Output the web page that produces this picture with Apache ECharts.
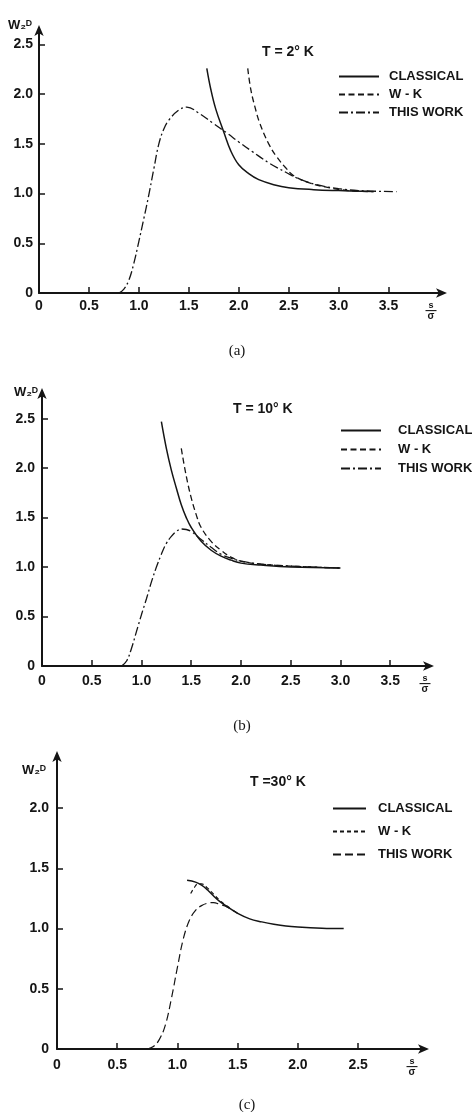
<!DOCTYPE html>
<html>
<head>
<meta charset="utf-8">
<script src="https://cdn.jsdelivr.net/npm/echarts@6/dist/echarts.min.js"></script>
<style>
  html, body { margin: 0; padding: 0; background: #fff; }
  #chart { width: 472px; height: 1112px; }
</style>
</head>
<body>
<div id="chart"></div>
<script>
// --- data: [s/sigma, W2D] ---
const classicalA = [[1.68, 2.26], [1.72, 2.05], [1.77, 1.85], [1.85, 1.62], [1.92, 1.43], [2.0, 1.29], [2.1, 1.2], [2.2, 1.14], [2.35, 1.09], [2.5, 1.06], [2.75, 1.04], [3.0, 1.03], [3.35, 1.02]]
const wkA = [[2.09, 2.26], [2.12, 2.05], [2.16, 1.88], [2.21, 1.71], [2.3, 1.5], [2.38, 1.37], [2.47, 1.26], [2.55, 1.18], [2.7, 1.11], [2.9, 1.06], [3.1, 1.03], [3.35, 1.02]]
const thisWorkA = [[0.8, 0], [0.85, 0.04], [0.9, 0.13], [0.95, 0.3], [1.0, 0.52], [1.05, 0.75], [1.1, 0.99], [1.15, 1.25], [1.2, 1.5], [1.25, 1.65], [1.3, 1.74], [1.4, 1.84], [1.48, 1.87], [1.6, 1.81], [1.74, 1.71], [1.88, 1.61], [2.0, 1.52], [2.14, 1.42], [2.3, 1.31], [2.48, 1.21], [2.6, 1.15], [2.78, 1.09], [3.0, 1.05], [3.2, 1.03], [3.58, 1.02]]

const classicalB = [[1.2, 2.47], [1.25, 2.2], [1.3, 1.98], [1.35, 1.8], [1.4, 1.63], [1.45, 1.5], [1.5, 1.4], [1.6, 1.26], [1.7, 1.17], [1.8, 1.11], [1.9, 1.07], [2.0, 1.04], [2.2, 1.02], [2.5, 1.0], [3.0, 0.99]]
const wkB = [[1.4, 2.2], [1.45, 1.92], [1.5, 1.7], [1.55, 1.53], [1.6, 1.4], [1.7, 1.26], [1.8, 1.17], [1.9, 1.1], [2.0, 1.06], [2.2, 1.03], [2.5, 1.01], [3.0, 0.99]]
const thisWorkB = [[0.8, 0], [0.85, 0.05], [0.9, 0.18], [0.95, 0.35], [1.0, 0.52], [1.05, 0.68], [1.1, 0.85], [1.15, 1.0], [1.2, 1.13], [1.25, 1.24], [1.3, 1.31], [1.35, 1.36], [1.4, 1.385], [1.45, 1.38], [1.5, 1.36], [1.6, 1.28], [1.7, 1.2], [1.8, 1.13], [1.9, 1.09], [2.0, 1.06], [2.2, 1.03], [2.5, 1.01], [3.0, 0.99]]

const classicalC = [[1.08, 1.4], [1.15, 1.385], [1.2, 1.36], [1.25, 1.32], [1.3, 1.27], [1.35, 1.225], [1.4, 1.19], [1.5, 1.125], [1.6, 1.08], [1.7, 1.055], [1.8, 1.035], [1.9, 1.02], [2.0, 1.012], [2.2, 1.003], [2.38, 1.0]]
const wkC = [[1.11, 1.29], [1.14, 1.34], [1.17, 1.37], [1.2, 1.37], [1.25, 1.335], [1.3, 1.285], [1.35, 1.235], [1.4, 1.195], [1.45, 1.16]]
const thisWorkC = [[0.75, 0], [0.8, 0.02], [0.85, 0.08], [0.9, 0.2], [0.95, 0.42], [1.0, 0.68], [1.05, 0.92], [1.1, 1.07], [1.15, 1.15], [1.2, 1.19], [1.25, 1.21], [1.3, 1.215], [1.35, 1.2], [1.4, 1.185], [1.5, 1.125]]

const xTicksAB = [0, 0.5, 1.0, 1.5, 2.0, 2.5, 3.0, 3.5]
const xTicksC = [0, 0.5, 1.0, 1.5, 2.0, 2.5]
const yTicksAB = [0, 0.5, 1.0, 1.5, 2.0, 2.5]
const yTicksC = [0, 0.5, 1.0, 1.5, 2.0]

const names = ['CLASSICAL', 'W - K', 'THIS WORK']
const panelKeys = ['a', 'b', 'c']
const titles = ['T = 2° K', 'T = 10° K', 'T =30° K']
const captions = ['(a)', '(b)', '(c)']

const ink = '#151515'
const sans = 'Liberation Sans, Arial, sans-serif'
const fmt = v => (v === 0 ? '0' : v.toFixed(1))

// one panel = one grid; sizes are measured from the scan
const panels = [
  { grid: { left: 39, top: 29, width: 404, height: 264 }, xMax: 4.045, yMax: 2.656, xTicks: xTicksAB, yTicks: yTicksAB, xMargin: 6, yMargin: 6, yNameGap: 4, yNamePad: 7, xNameGap: -12 },
  { grid: { left: 42, top: 392, width: 388, height: 274 }, xMax: 3.9, yMax: 2.77, xTicks: xTicksAB, yTicks: yTicksAB, xMargin: 8, yMargin: 7, yNameGap: 0, yNamePad: 4, xNameGap: -5 },
  { grid: { left: 57, top: 755, width: 368, height: 294 }, xMax: 3.055, yMax: 2.44, xTicks: xTicksC, yTicks: yTicksC, xMargin: 9, yMargin: 8, yNameGap: -15, yNamePad: 11, xNameGap: -13 }
]

const axisLine = { lineStyle: { color: ink, width: 2 }, symbol: ['none', 'arrow'], symbolSize: [7, 11], symbolOffset: [0, 4] }
const labelStyle = { color: ink, fontFamily: sans, fontWeight: 'bold', fontSize: 14 }

const xAxis = panels.map((p, i) => ({
  type: 'value', gridIndex: i, min: 0, max: p.xMax,
  axisLine,
  splitLine: { show: false },
  axisTick: { inside: true, length: 6, lineStyle: { color: ink, width: 1.5 }, customValues: p.xTicks },
  axisLabel: { ...labelStyle, margin: p.xMargin, formatter: fmt, customValues: p.xTicks },
  name: '{n|s}\n{b|—}\n{d|σ}',
  nameLocation: 'end',
  nameGap: p.xNameGap,
  nameTextStyle: {
    align: 'center', verticalAlign: 'top', padding: [9, 0, 0, 0],
    rich: {
      n: { fontSize: 9, fontWeight: 'bold', lineHeight: 7, color: ink, fontFamily: sans },
      b: { fontSize: 11, fontWeight: 'bold', lineHeight: 3, color: ink, fontFamily: sans },
      d: { fontSize: 10, fontWeight: 'bold', lineHeight: 9, color: ink, fontFamily: sans }
    }
  }
}))

const yAxis = panels.map((p, i) => ({
  type: 'value', gridIndex: i, min: 0, max: p.yMax,
  axisLine,
  splitLine: { show: false },
  axisTick: { inside: true, length: 6, lineStyle: { color: ink, width: 1.5 }, customValues: p.yTicks },
  axisLabel: { ...labelStyle, margin: p.yMargin, formatter: fmt, customValues: p.yTicks },
  name: 'W₂ᴰ',
  nameLocation: 'end',
  nameGap: p.yNameGap,
  nameTextStyle: { ...labelStyle, fontSize: 13, align: 'right', verticalAlign: 'middle', padding: [0, p.yNamePad, 0, 0] }
}))

const dashDot = [9, 3, 2, 3]
const styles = [
  { type: 'solid', width: 1.5 },
  { type: [6, 3.5], width: 1.3 },
  { type: dashDot, width: 1.3 }
]
const data = [
  [classicalA, wkA, thisWorkA],
  [classicalB, wkB, thisWorkB],
  [classicalC, wkC, thisWorkC]
]

// series names carry a panel key so each legend picks its own panel's line style
const seriesName = (j, i) => names[j] + '|' + panelKeys[i]

const series = []
data.forEach((set, i) => {
  set.forEach((d, j) => {
    let ls = { ...styles[j], color: ink }
    if (i === 2 && j === 2) ls = { type: [8, 4], width: 1.2, color: ink }
    if (i === 2 && j === 1) ls = { type: [4, 3], width: 1.2, color: ink }
    series.push({
      name: seriesName(j, i),
      type: 'line',
      xAxisIndex: i,
      yAxisIndex: i,
      data: d,
      smooth: 0.4,
      showSymbol: false,
      symbol: 'none',
      color: ink,
      itemStyle: { color: ink },
      lineStyle: ls,
      silent: true,
      z: 3 - j
    })
  })
})

const legendPos = [
  { left: 338, top: 70, itemWidth: 40, itemGap: 5, pad: 5 },
  { left: 340, top: 424, itemWidth: 40, itemGap: 6, pad: 12 },
  { left: 332, top: 802, itemWidth: 33, itemGap: 10, pad: 7 }
]
const legend = legendPos.map((l, i) => ({
  orient: 'vertical',
  left: l.left,
  top: l.top,
  padding: 0,
  itemWidth: l.itemWidth,
  itemHeight: 14,
  itemGap: l.itemGap,
  selectedMode: false,
  itemStyle: { opacity: 0 },
  data: names.map((n, j) => seriesName(j, i)),
  formatter: name => name.split('|')[0],
  textStyle: { color: ink, fontFamily: sans, fontWeight: 'bold', fontSize: 13, padding: [0, 0, 0, l.pad] }
}))

const titlePos = [{ left: 262, top: 45 }, { left: 233, top: 402 }, { left: 250, top: 775 }]
const title = titlePos.map((t, i) => ({
  text: titles[i],
  left: t.left,
  top: t.top,
  padding: 0,
  textStyle: { color: ink, fontFamily: sans, fontWeight: 'bold', fontSize: 14 }
}))

const captionPos = [[237, 351], [242, 726], [247, 1105]]
const graphic = captionPos.map((c, i) => ({
  type: 'text',
  x: c[0],
  y: c[1],
  style: { text: captions[i], fill: ink, font: '15px "Liberation Serif", serif', align: 'center', verticalAlign: 'middle' }
}))

const chart = echarts.init(document.getElementById('chart'))
chart.setOption({
  animation: false,
  backgroundColor: '#fff',
  title,
  legend,
  grid: panels.map(p => p.grid),
  xAxis,
  yAxis,
  series,
  graphic
})
</script>
</body>
</html>
